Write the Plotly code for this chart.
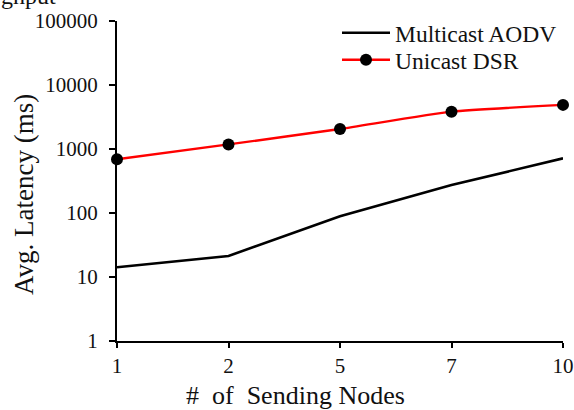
import plotly.graph_objects as go

# Number of sending nodes (evenly spaced categories)
nodes = ["1", "2", "5", "7", "10"]
# Average latency in ms
multicast_aodv = [14.2, 21.3, 89, 273, 715]
unicast_dsr = [690, 1180, 2050, 3830, 4890]

y_tickvals = [1, 10, 100, 1000, 10000, 100000]
y_ticktext = ["1", "10", "100", "1000", "10000", "100000"]

FONT = "Liberation Serif"
W, H = 574, 410
L, R, T, B = 117, 11, 21, 69
pw, ph = W - L - R, H - T - B


def px_x(px):
    return (px - L) / pw


def px_y(py):
    return (H - B - py) / ph


fig = go.Figure()
fig.add_trace(go.Scatter(
    x=nodes, y=multicast_aodv, name="Multicast AODV", mode="lines",
    line=dict(color="black", width=2.6),
    cliponaxis=False, legend="legend",
))
fig.add_trace(go.Scatter(
    x=nodes, y=unicast_dsr, name="Unicast DSR", mode="lines+markers",
    line=dict(color="#ff0000", width=2.4, shape="spline", smoothing=0.5),
    marker=dict(color="black", size=12),
    cliponaxis=False, legend="legend2",
))

legend_common = dict(
    xanchor="left", yanchor="top",
    bgcolor="rgba(0,0,0,0)", font=dict(size=23.5, family=FONT),
    itemwidth=48,
)

fig.update_layout(
    width=W, height=H,
    margin=dict(l=L, r=R, t=T, b=B, autoexpand=False),
    paper_bgcolor="white", plot_bgcolor="white",
    font=dict(family=FONT, size=21, color="#111111"),
    showlegend=True,
    legend=dict(x=px_x(337), y=px_y(11), **legend_common),
    legend2=dict(x=px_x(337), y=px_y(38), **legend_common),
    xaxis=dict(
        type="category", range=[0, 4], automargin=False,
        showline=True, linecolor="black", linewidth=2,
        ticks="outside", ticklen=5, tickwidth=2, tickcolor="black",
        showgrid=False, zeroline=False,
        tickfont=dict(size=21, family=FONT),
    ),
    yaxis=dict(
        type="log", range=[0, 5], automargin=False,
        tickvals=y_tickvals, ticktext=y_ticktext,
        showline=True, linecolor="black", linewidth=2,
        ticks="outside", ticklen=6, tickwidth=2, tickcolor="black",
        ticklabelstandoff=7,
        showgrid=False, zeroline=False,
        tickfont=dict(size=21, family=FONT),
    ),
    annotations=[
        dict(text="Avg. Latency (ms)", textangle=-90, showarrow=False,
             xref="paper", yref="paper", x=px_x(24), y=px_y(195),
             xanchor="center", yanchor="middle",
             font=dict(size=27, family=FONT)),
        dict(text="#  of  Sending Nodes", showarrow=False,
             xref="paper", yref="paper", x=px_x(295), y=px_y(379),
             xanchor="center", yanchor="top",
             font=dict(size=26, family=FONT)),
        dict(text="ghput", showarrow=False,
             xref="paper", yref="paper", x=px_x(-1), y=px_y(11),
             xanchor="left", yanchor="bottom",
             font=dict(size=24, family=FONT)),
    ],
)

fig.write_html("out.html")
